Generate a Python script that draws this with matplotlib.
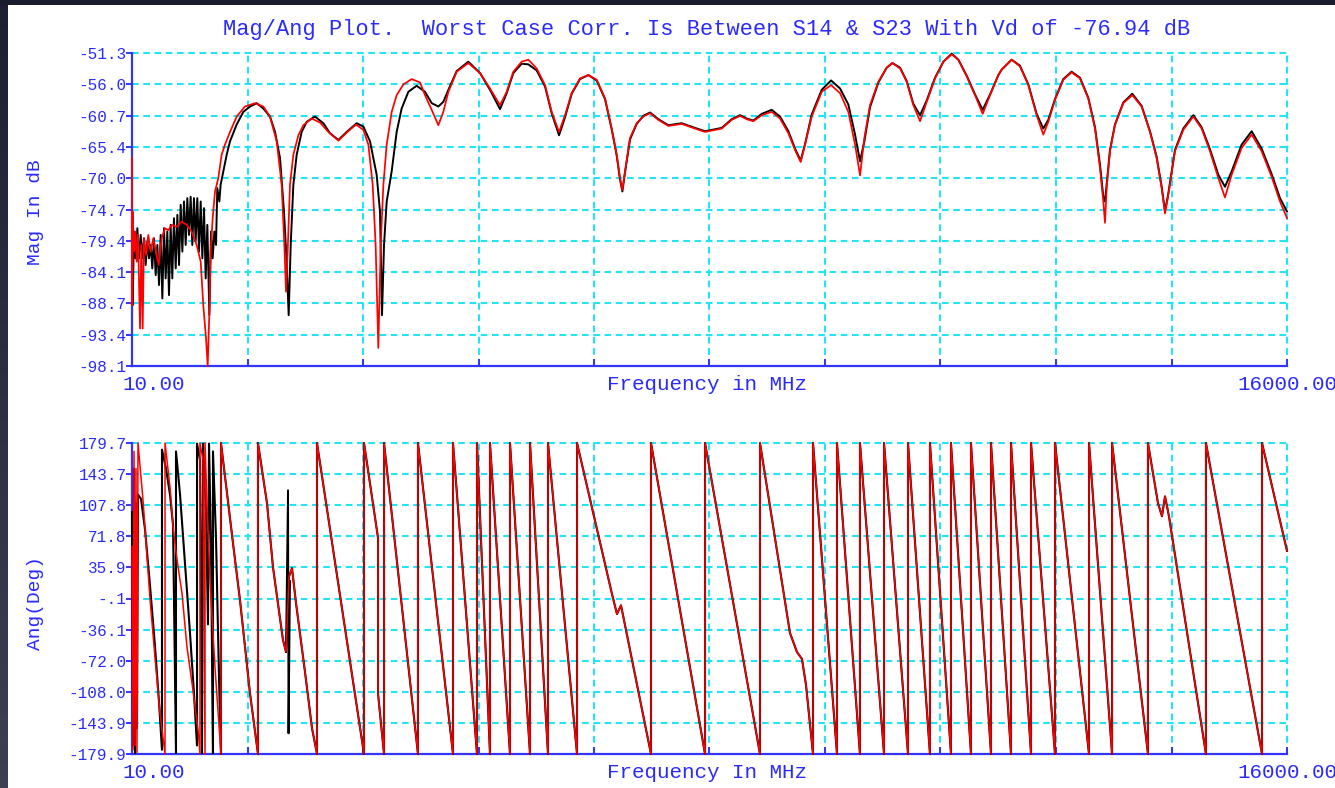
import matplotlib
matplotlib.use("Agg")
import matplotlib.pyplot as plt
from matplotlib.patches import Rectangle
import numpy as np

# ---------------------------------------------------------------- data
F_MIN, F_MAX = 10.0, 16000.0

mag_tick_labels = ["-51.3", "-56.0", "-60.7", "-65.4", "-70.0", "-74.7",
                   "-79.4", "-84.1", "-88.7", "-93.4", "-98.1"]
ang_tick_labels = ["179.7", "143.7", "107.8", "71.8", "35.9", "-.1",
                   "-36.1", "-72.0", "-108.0", "-143.9", "-179.9"]
MAG_TOP, MAG_BOT = -51.3, -98.1
ANG_TOP, ANG_BOT = 179.7, -179.9

# S14 (red) magnitude, low band
red_lo_f = [10, 15, 19, 38, 56, 75, 93, 121, 139, 158,
            176, 204, 236, 268, 305, 342, 379, 421, 467, 513,
            559, 628, 698, 767, 836, 905, 961, 997, 1035, 1058,
            1081, 1099, 1127, 1159, 1205, 1251, 1297, 1367, 1459, 1574,
            1713, 1828, 1920, 2013, 2082, 2119, 2142, 2165, 2197, 2244,
            2313, 2382, 2497, 2613, 2728, 2867, 2982, 3111, 3213, 3282,
            3342, 3383, 3420, 3453, 3490, 3536, 3605, 3674, 3767, 3882,
            3997]
red_lo_db = [-67.0, -89.0, -75.0, -81.0, -78.0, -82.5, -78.5, -92.5, -80.0, -92.5,
             -79.0, -81.5, -78.5, -81.0, -79.0, -81.0, -83.0, -79.0, -77.5, -77.8,
             -77.0, -77.3, -76.5, -77.0, -78.0, -80.0, -82.5, -89.0, -94.0, -98.1,
             -90.0, -81.0, -76.0, -72.0, -70.0, -66.5, -65.0, -63.1, -60.8, -59.3,
             -58.8, -59.3, -60.8, -64.5, -71.0, -80.0, -87.0, -81.0, -71.0, -66.5,
             -63.6, -62.1, -61.1, -61.7, -63.1, -64.4, -63.2, -62.0, -62.8, -65.0,
             -71.0, -80.0, -95.4, -80.0, -71.0, -65.0, -60.1, -57.6, -56.0, -55.2,
             -55.7]

# S23 (black) magnitude, low band
blk_lo_f = [10, 19, 38, 60, 84, 107, 130, 153, 176, 199,
            222, 245, 268, 291, 314, 338, 361, 384, 407, 430,
            453, 476, 499, 522, 545, 568, 591, 615, 638, 661,
            684, 707, 730, 753, 776, 799, 822, 845, 868, 891,
            914, 938, 961, 984, 1007, 1030, 1053, 1081, 1104, 1127,
            1150, 1173, 1191, 1219, 1237, 1274, 1321, 1367, 1459, 1551,
            1644, 1736, 1828, 1920, 1990, 2059, 2114, 2151, 2179, 2207,
            2244, 2290, 2359, 2428, 2543, 2659, 2751, 2867, 2982, 3120,
            3213, 3305, 3397, 3443, 3471, 3499, 3536, 3605, 3674, 3743,
            3836, 3951]
blk_lo_db = [-79.4, -89.0, -78.0, -82.0, -77.5, -82.0, -78.5, -82.0, -79.0, -83.0,
             -79.5, -82.0, -80.0, -83.5, -79.0, -84.5, -80.0, -86.0, -78.5, -88.0,
             -77.5, -85.0, -78.0, -87.5, -77.0, -85.0, -76.0, -83.5, -75.5, -83.0,
             -74.0, -81.0, -73.5, -80.0, -73.0, -78.5, -72.8, -80.0, -73.0, -79.5,
             -73.0, -81.0, -73.5, -82.0, -74.5, -85.0, -77.0, -90.5, -78.0, -82.0,
             -78.0, -80.0, -71.5, -73.5, -71.0, -69.0, -66.5, -64.5, -62.0, -60.1,
             -59.3, -58.8, -59.6, -60.8, -63.1, -67.0, -75.0, -82.5, -90.5, -80.0,
             -71.0, -66.5, -63.1, -61.6, -60.8, -61.8, -63.3, -64.3, -63.1, -61.8,
             -62.3, -64.5, -69.5, -75.0, -90.5, -80.0, -73.5, -69.0, -63.1, -59.6,
             -57.1, -56.2]

# upper band, shared frequency points
hi_f = [4066, 4159, 4251, 4320, 4390, 4505, 4666, 4828, 4966, 5105,
        5197, 5289, 5405, 5497, 5612, 5728, 5820, 5922, 6005, 6097,
        6212, 6328, 6443, 6559, 6651, 6720, 6766, 6799, 6835, 6905,
        6997, 7089, 7182, 7297, 7435, 7620, 7805, 7943,
        8174, 8312, 8428, 8520, 8612, 8728, 8866, 8981, 9097, 9189,
        9267, 9328, 9420, 9559, 9688, 9812, 9927, 10020, 10089, 10149,
        10227, 10343, 10458, 10537, 10643, 10735, 10827, 10920, 11012, 11127,
        11243, 11358, 11450, 11566, 11681, 11787, 11889, 12004,
        12049, 12188, 12303, 12419, 12534, 12626, 12695, 12788, 12903, 13018,
        13134, 13249, 13342, 13411, 13457, 13480, 13503, 13549, 13618, 13734,
        13858, 13987, 14103, 14195, 14265, 14311, 14357, 14449, 14564, 14703,
        14818, 14934, 15049, 15141, 15234, 15372, 15511, 15649, 15787, 15903,
        16000]
red_hi_db = [-57.6, -59.8, -62.1, -60.1, -57.1, -54.1, -52.8, -54.3, -56.6, -59.1,
             -57.1, -54.1, -52.6, -52.3, -53.6, -56.1, -60.1, -63.1, -60.6, -57.3,
             -55.1, -54.6, -55.3, -58.1, -62.6, -66.5, -70.0, -71.8, -69.0, -64.0,
             -61.8, -60.8, -60.3, -61.3, -62.2, -61.9, -62.6, -63.1,
             -62.6, -61.3, -60.7, -61.2, -61.5, -60.6, -60.1, -61.1, -63.3, -65.8,
             -67.6, -65.0, -60.8, -57.1, -56.1, -57.3, -60.1, -65.0, -69.6, -64.0,
             -59.1, -55.6, -53.5, -52.8, -53.6, -55.6, -59.1, -61.5, -58.6, -55.1,
             -52.6, -51.5, -52.3, -54.8, -57.6, -60.4, -57.6, -54.6,
             -53.8, -52.3, -53.3, -56.1, -60.6, -63.5, -61.6, -58.3, -55.3, -54.2,
             -55.1, -58.1, -62.6, -68.5, -73.5, -76.7, -71.5, -66.0, -62.1, -58.8,
             -57.6, -59.3, -63.1, -67.0, -71.5, -75.3, -72.5, -66.0, -62.8, -60.8,
             -62.6, -66.0, -70.0, -72.9, -69.5, -65.5, -63.5, -66.0, -69.8, -73.5,
             -76.0]
blk_hi_db = [-57.1, -58.8, -59.3, -58.6, -56.8, -54.0, -52.6, -54.3, -56.8, -59.7,
             -57.3, -54.3, -52.9, -53.0, -53.9, -56.3, -60.3, -63.6, -60.9, -57.4,
             -55.2, -54.6, -55.4, -58.2, -62.7, -66.6, -70.2, -72.0, -69.2, -64.2,
             -61.9, -60.7, -60.2, -61.2, -62.1, -61.8, -62.5, -63.0,
             -62.5, -61.2, -60.6, -61.1, -61.4, -60.4, -59.8, -60.8, -63.0, -65.6,
             -67.4, -64.9, -60.5, -56.8, -55.4, -56.6, -59.0, -63.5, -67.5, -64.5,
             -59.4, -55.7, -53.5, -52.8, -53.5, -55.5, -58.9, -60.6, -58.4, -55.0,
             -52.6, -51.4, -52.3, -54.7, -57.5, -59.8, -57.5, -54.6,
             -53.8, -52.3, -53.2, -56.0, -60.4, -62.6, -61.3, -58.2, -55.2, -54.1,
             -55.0, -58.0, -62.4, -68.0, -72.8, -73.5, -71.0, -65.8, -62.0, -58.7,
             -57.4, -59.2, -63.0, -66.8, -71.3, -75.0, -72.3, -65.8, -62.6, -60.6,
             -62.4, -65.7, -69.5, -71.3, -69.0, -65.0, -63.0, -65.6, -69.4, -73.0,
             -75.0]

# wrapped phase, low band (each trace separately)
red_ph_lo_f = [10, 24, 38, 52, 65, 79, 93, 162, 218, 259,
               328, 398, 467, 467, 536, 578, 633, 702, 771, 854,
               924, 951, 951, 993, 1021, 1021, 1048, 1090, 1159, 1242]
red_ph_lo = [60, -175, 170, -170, 150, -178, 179.7, 114, 48, 0,
             -68, -133, -179.9, 179.7, 129, 83, 45, 6, -56, -106,
             -152, -179.9, 179.7, 160, -179.9, 179.7, 110, 21, -80, -179.9]
blk_ph_lo_f = [10, 24, 38, 52, 65, 79, 93, 135, 190, 259,
               328, 384, 425, 425, 481, 536, 578, 619, 619, 675,
               744, 813, 868, 910, 910, 951, 979, 993, 1035, 1062,
               1076, 1104, 1131, 1131, 1173, 1214, 1242]
blk_ph_lo = [100, -170, 150, -179, 110, -150, 120, 115, 80, 15,
             -55, -120, -175, 172, 150, 120, 85, -179, 170, 120,
             40, -40, -110, -170, 179, 160, -179, 179, 100, -30,
             179, 60, -179, 170, 70, -90, -179.9]

# wrapped phase above 1.2 GHz (shared by both traces)
ph_hi_f = [1242, 1408, 1505, 1644, 1754, 1754, 1879, 1962, 2100, 2142,
           2183, 2225, 2280, 2405, 2502, 2571, 2571, 3222, 3222, 3416,
           3416, 3499, 3499, 3969, 3969, 4454, 4454, 4786, 4786, 4966,
           4966, 5243, 5243, 5520, 5520, 5769, 5769, 6171, 6171, 6655,
           6724, 6780, 6821, 7195, 7195, 7943, 7943, 8704, 8704, 9119,
           9216, 9285, 9341, 9438, 9438, 9770, 9770, 10088, 10088, 10421,
           10421, 10753, 10753, 11057, 11057, 11348, 11348, 11625, 11625, 11902,
           11902, 12179, 12179, 12456, 12456, 12788, 12788, 13259, 13259, 13578,
           13578, 14075, 14075, 14214, 14269, 14311, 14366, 14878, 14878, 15654,
           15654, 16000]
ph_hi = [179.7, 64, -2, -110, -179.9, 179.7, 110, 36, -48, -62,
         25, 35, -5, -85, -150, -179.9, 179.7, -179.9, 179.7, 70,
         -110, -179.9, 179.7, -179.9, 179.7, -179.9, 179.7, -179.9, 179.7, -179.9,
         179.7, -179.9, 179.7, -179.9, 179.7, -179.9, 179.7, -179.9, 179.7, 5,
         -18, -8, -25, -179.9, 179.7, -179.9, 179.7, -179.9, 179.7, -40,
         -62, -70, -100, -179.9, 179.7, -179.9, 179.7, -179.9, 179.7, -179.9,
         179.7, -179.9, 179.7, -179.9, 179.7, -179.9, 179.7, -179.9, 179.7, -179.9,
         179.7, -179.9, 179.7, -179.9, 179.7, -179.9, 179.7, -179.9, 179.7, -179.9,
         179.7, -179.9, 179.7, 110, 95, 118, 95, -179.9, 179.7, -179.9,
         179.7, 55]

# S23 phase spike near the 2.16 GHz null
blk_spike_f = [2142, 2170, 2177, 2197]
blk_spike = [-62, 125, -156, 20]

# ---------------------------------------------------------------- style
BLUE = "#2a2aff"
AXBLUE = "#3434ff"
CYAN = "#22e4f4"
FONT = ["Liberation Mono", "DejaVu Sans Mono"]

W, H = 1335, 788
fig = plt.figure(figsize=(W / 100, H / 100), dpi=100, facecolor="#181c2c")
fig.patches.append(Rectangle((8 / W, 0), 1 - 8 / W, 1 - 5 / H,
                             transform=fig.transFigure, facecolor="white",
                             edgecolor="none", zorder=-10))
# left window edge, darker at the top
edge = fig.add_axes([0, 0, 8 / W, 1 - 5 / H])
edge.imshow(np.linspace(0, 1, 64).reshape(-1, 1), aspect="auto",
            cmap=matplotlib.colors.LinearSegmentedColormap.from_list(
                "edge", ["#1c2032", "#3c4050"]),
            extent=(0, 1, 0, 1), origin="upper")
edge.set_axis_off()


def px_box(left, top, right, bottom):
    return [left / W, 1 - bottom / H, (right - left) / W, (bottom - top) / H]


def style_axes(ax, ytop, ybot, labels):
    ax.set_xlim(F_MIN, F_MAX)
    ax.set_ylim(ybot, ytop)
    ax.set_facecolor("none")
    xt = np.linspace(F_MIN, F_MAX, 11)
    yt = np.linspace(ytop, ybot, 11)
    for x in xt[1:]:
        ax.axvline(x, color=CYAN, lw=1.5, dashes=(3.2, 2.2), zorder=1,
                   clip_on=False)
    for y in yt[:-1]:
        ax.axhline(y, color=CYAN, lw=1.5, dashes=(3.2, 2.2), zorder=1,
                   clip_on=False)
    for s in ("top", "right"):
        ax.spines[s].set_visible(False)
    for s in ("left", "bottom"):
        ax.spines[s].set_color(AXBLUE)
        ax.spines[s].set_linewidth(1.6)
        ax.spines[s].set_zorder(2)
    ax.set_yticks(yt)
    ax.set_yticklabels(labels, family=FONT, fontsize=11.5, color=BLUE)
    ax.set_xticks(xt)
    ax.set_xticklabels([])
    ax.tick_params(axis="y", direction="out", length=4, width=1.4,
                   color=AXBLUE, pad=0)
    ax.tick_params(axis="x", direction="in", length=5, width=1.4,
                   color=AXBLUE)


# ---------------------------------------------------------------- magnitude
ax1 = fig.add_axes(px_box(132, 53, 1287, 366))
style_axes(ax1, MAG_TOP, MAG_BOT, mag_tick_labels)
ax1.plot(blk_lo_f + hi_f, blk_lo_db + blk_hi_db, color="black", lw=1.4,
         zorder=3, clip_on=False)
ax1.plot(red_lo_f + hi_f, red_lo_db + red_hi_db, color="red", lw=1.25,
         zorder=4, clip_on=False)

# ---------------------------------------------------------------- phase
ax2 = fig.add_axes(px_box(132, 443, 1287, 754))
style_axes(ax2, ANG_TOP, ANG_BOT, ang_tick_labels)
ax2.plot(blk_ph_lo_f + ph_hi_f, blk_ph_lo + ph_hi, color="black", lw=1.5,
         zorder=3, clip_on=False)
ax2.plot(blk_spike_f, blk_spike, color="black", lw=1.4, zorder=3)
ax2.plot(red_ph_lo_f + ph_hi_f, red_ph_lo + ph_hi, color="red", lw=1.1,
         zorder=4, clip_on=False)

# ---------------------------------------------------------------- text
fig.text(707 / W, 1 - 30 / H,
         "Mag/Ang Plot.  Worst Case Corr. Is Between S14 & S23 With Vd of -76.94 dB",
         ha="center", va="center", family=FONT, fontsize=15.8, color=BLUE)
for ycen, xl, yl, ylab in ((384, "Frequency in MHz", 212, "Mag In dB"),
                           (773, "Frequency In MHz", 603, "Ang(Deg)")):
    fig.text(707 / W, 1 - ycen / H, xl, ha="center", va="center",
             family=FONT, fontsize=15, color=BLUE)
    fig.text(122 / W, 1 - ycen / H, "10.00", ha="left", va="center",
             family=FONT, fontsize=15, color=BLUE)
    fig.text(1237 / W, 1 - ycen / H, "16000.00", ha="left", va="center",
             family=FONT, fontsize=15, color=BLUE)
    fig.text(36 / W, 1 - yl / H, ylab, ha="center", va="center",
             rotation=90, family=FONT, fontsize=14, color=BLUE)

fig.savefig("out.png", dpi=100, facecolor=fig.get_facecolor())
